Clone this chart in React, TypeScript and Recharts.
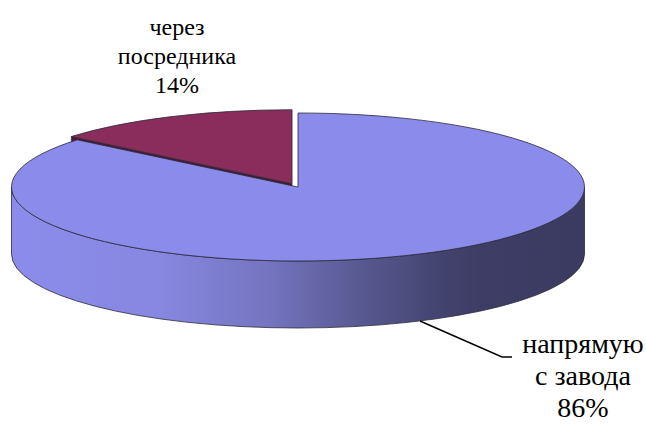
import React from 'react';
import { PieChart, Pie } from 'recharts';

// Sales channel shares, percent
const CATEGORIES = ['напрямую с завода', 'через посредника'];
const LABEL_LINES = [['напрямую', 'с завода'], ['через', 'посредника']];
const SHARES = [86, 14];
const COLORS = ['#8B8BEB', '#8B2D5C'];

const data = CATEGORIES.map((name, i) => ({
  name,
  value: SHARES[i],
  lines: LABEL_LINES[i],
  slot: i,
}));

// Drawing constants for the tilted disc
const WIDTH = 646;
const HEIGHT = 426;
const CX = 298;
const CY = 187;
const RADIUS = 286.5;
const TILT = 74 / 286.5; // vertical squash of the top face
const DEPTH = 67;
const EXPLODE: Record<string, number> = { 'через посредника': 14 };
const SIDE_COLORS = ['url(#wallGrad0)', '#4E1633'];
const EDGE = '#2a2a3a';
const SERIF = 'Liberation Serif';

const LABEL_LAYOUT: Record<string, { x: number; y: number; size: number; lh: number; leader: boolean }> = {
  'напрямую с завода': { x: 583, y: 353, size: 28, lh: 32, leader: true },
  'через посредника': { x: 177, y: 35, size: 24, lh: 29, leader: false },
};

const rad = (d: number) => (d * Math.PI) / 180;

function geom(props: any) {
  const { cx, cy, outerRadius, startAngle, endAngle } = props;
  const name = props.payload?.name ?? props.name;
  const slot = props.payload?.slot ?? props.slot ?? 0;
  const a0 = Math.min(startAngle, endAngle);
  const a1 = Math.max(startAngle, endAngle);
  const mid = (a0 + a1) / 2;
  const rx = outerRadius;
  const ry = outerRadius * TILT;
  const e = EXPLODE[name] ?? 0;
  const ox = cx + e * Math.cos(rad(mid));
  const oy = cy - e * TILT * Math.sin(rad(mid));
  const pt = (a: number, dy = 0): [number, number] => [
    ox + rx * Math.cos(rad(a)),
    oy - ry * Math.sin(rad(a)) + dy,
  ];
  return { a0, a1, rx, ry, ox, oy, pt, slot };
}

const f = (p: [number, number]) => `${p[0].toFixed(2)},${p[1].toFixed(2)}`;

// Side surfaces: the visible part of the rim and any radial face turned to the viewer
function WallShape(props: any) {
  const { a0, a1, rx, ry, ox, oy, pt, slot } = geom(props);
  const fill = SIDE_COLORS[slot];
  const parts: React.ReactNode[] = [];
  for (const k of [-1, 0, 1]) {
    const lo = Math.max(a0, 180 + 360 * k);
    const hi = Math.min(a1, 360 + 360 * k);
    if (hi > lo) {
      const d = `M${f(pt(lo))} A${rx},${ry} 0 0 0 ${f(pt(hi))} L${f(pt(hi, DEPTH))} A${rx},${ry} 0 0 1 ${f(pt(lo, DEPTH))} Z`;
      parts.push(<path key={`rim${k}`} d={d} fill={fill} stroke={EDGE} strokeWidth={0.8} />);
    }
  }
  const face = (a: number, key: string) => {
    const p = pt(a);
    const d = `M${ox},${oy} L${f(p)} L${f([p[0], p[1] + DEPTH])} L${ox},${oy + DEPTH} Z`;
    parts.push(<path key={key} d={d} fill={slot === 0 ? '#3b3b62' : '#4E1633'} stroke={EDGE} strokeWidth={0.6} />);
  };
  if (Math.sin(rad(a0 - 90)) < -1e-6) face(a0, 'f0');
  if (Math.sin(rad(a1 + 90)) < -1e-6) face(a1, 'f1');
  return (
    <g>
      <defs>
        <linearGradient id="wallGrad0" gradientUnits="userSpaceOnUse" x1={CX - RADIUS} y1={0} x2={CX + RADIUS} y2={0}>
          <stop offset="0" stopColor="#8B8BEB" />
          <stop offset="0.25" stopColor="#8888E2" />
          <stop offset="0.45" stopColor="#7474C0" />
          <stop offset="0.6" stopColor="#5A5A94" />
          <stop offset="0.75" stopColor="#43436F" />
          <stop offset="0.82" stopColor="#3D3D65" />
          <stop offset="1" stopColor="#3B3B62" />
        </linearGradient>
      </defs>
      {parts}
    </g>
  );
}

// Top face of each slice
function TopShape(props: any) {
  const { a0, a1, rx, ry, ox, oy, pt, slot } = geom(props);
  const large = a1 - a0 > 180 ? 1 : 0;
  const d = `M${ox},${oy} L${f(pt(a1))} A${rx},${ry} 0 ${large} 1 ${f(pt(a0))} Z`;
  return <path d={d} fill={COLORS[slot]} stroke={EDGE} strokeWidth={0.8} strokeLinejoin="round" />;
}

function renderLabel(props: any) {
  const { cx, cy, midAngle, outerRadius, value } = props;
  const name = props.payload?.name ?? props.name;
  const lines: string[] = props.payload?.lines ?? props.lines ?? [name];
  const L = LABEL_LAYOUT[name];
  if (!L) return null;
  const texts = [...lines, `${value}%`];
  const ax = cx + outerRadius * Math.cos(rad(midAngle));
  const ay = cy - outerRadius * TILT * Math.sin(rad(midAngle)) + DEPTH;
  const ly = L.y + 4;
  return (
    <g>
      {L.leader && (
        <polyline
          points={`${ax},${ay} ${L.x - 81},${ly} ${L.x - 71},${ly}`}
          fill="none"
          stroke="#000"
          strokeWidth={1.5}
        />
      )}
      {texts.map((t, i) => (
        <text key={i} x={L.x} y={L.y + i * L.lh} textAnchor="middle" fontFamily={SERIF} fontSize={L.size} fill="#000">
          {t}
        </text>
      ))}
    </g>
  );
}

export default function App() {
  return (
    <div style={{ position: 'absolute', left: 0, top: 0, width: WIDTH, height: HEIGHT, background: '#fff' }}>
      <PieChart width={WIDTH} height={HEIGHT} margin={{ top: 0, right: 0, bottom: 0, left: 0 }}>
        <Pie
          data={data}
          dataKey="value"
          nameKey="name"
          cx={CX}
          cy={CY}
          innerRadius={0}
          outerRadius={RADIUS}
          startAngle={90}
          endAngle={-270}
          stroke="none"
          isAnimationActive={false}
          shape={WallShape}
          label={false}
          labelLine={false}
        />
        <Pie
          data={data}
          dataKey="value"
          nameKey="name"
          cx={CX}
          cy={CY}
          innerRadius={0}
          outerRadius={RADIUS}
          startAngle={90}
          endAngle={-270}
          stroke="none"
          isAnimationActive={false}
          shape={TopShape}
          label={renderLabel}
          labelLine={false}
        />
      </PieChart>
    </div>
  );
}
